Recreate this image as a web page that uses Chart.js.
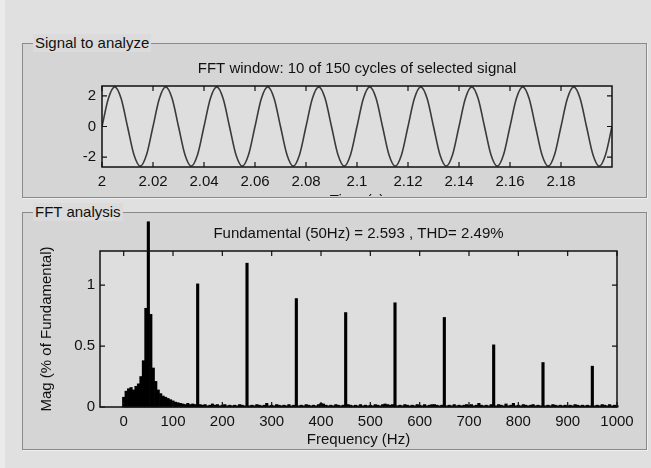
<!DOCTYPE html>
<html>
<head>
<meta charset="utf-8">
<script src="https://cdn.jsdelivr.net/npm/chart.js@4"></script>
<style>
  html, body { margin: 0; padding: 0; }
  body { width: 651px; height: 468px; background: #e0e0e0; position: relative; overflow: hidden;
         font-family: "Liberation Sans", Arial, sans-serif; }
  .edge { position: absolute; left: 0; top: 0; width: 5px; height: 468px; background: #ebebeb; }
  .panel { position: absolute; border: 1px solid #8a8a8a; box-shadow: 1px 1px 0 #efefef; background: #d5d5d5; }
  .panel span { position: absolute; top: -10px; left: 10px; background: #dbdbdb; padding: 0 2px;
                font-size: 15px; line-height: 18px; color: #111; }
  .wrap { position: absolute; left: 0; width: 651px; overflow: hidden; }
</style>
</head>
<body>
<div class="edge"></div>
<div class="panel" style="left:22px; top:43px; width:623px; height:153px;"><span>Signal to analyze</span></div>
<div class="panel" style="left:22px; top:212px; width:623px; height:236px;"><span>FFT analysis</span></div>

<div class="wrap" style="top:52px; height:144px;"><canvas id="signalChart" width="651" height="160"></canvas></div>
<div class="wrap" style="top:212px; height:240px;"><canvas id="fftChart" width="651" height="240"></canvas></div>

<script>
// FFT window signal: 10 cycles of 50 Hz, sampled every 2.5 ms
const timeS = [
  2.0000, 2.0025, 2.0050, 2.0075, 2.0100, 2.0125, 2.0150, 2.0175,
  2.0200, 2.0225, 2.0250, 2.0275, 2.0300, 2.0325, 2.0350, 2.0375,
  2.0400, 2.0425, 2.0450, 2.0475, 2.0500, 2.0525, 2.0550, 2.0575,
  2.0600, 2.0625, 2.0650, 2.0675, 2.0700, 2.0725, 2.0750, 2.0775,
  2.0800, 2.0825, 2.0850, 2.0875, 2.0900, 2.0925, 2.0950, 2.0975,
  2.1000, 2.1025, 2.1050, 2.1075, 2.1100, 2.1125, 2.1150, 2.1175,
  2.1200, 2.1225, 2.1250, 2.1275, 2.1300, 2.1325, 2.1350, 2.1375,
  2.1400, 2.1425, 2.1450, 2.1475, 2.1500, 2.1525, 2.1550, 2.1575,
  2.1600, 2.1625, 2.1650, 2.1675, 2.1700, 2.1725, 2.1750, 2.1775,
  2.1800, 2.1825, 2.1850, 2.1875, 2.1900, 2.1925, 2.1950, 2.1975,
  2.2000
];
const signalV = [
  0, 1.83, 2.59, 1.83, 0, -1.83, -2.59, -1.83,
  0, 1.83, 2.59, 1.83, 0, -1.83, -2.59, -1.83,
  0, 1.83, 2.59, 1.83, 0, -1.83, -2.59, -1.83,
  0, 1.83, 2.59, 1.83, 0, -1.83, -2.59, -1.83,
  0, 1.83, 2.59, 1.83, 0, -1.83, -2.59, -1.83,
  0, 1.83, 2.59, 1.83, 0, -1.83, -2.59, -1.83,
  0, 1.83, 2.59, 1.83, 0, -1.83, -2.59, -1.83,
  0, 1.83, 2.59, 1.83, 0, -1.83, -2.59, -1.83,
  0, 1.83, 2.59, 1.83, 0, -1.83, -2.59, -1.83,
  0, 1.83, 2.59, 1.83, 0, -1.83, -2.59, -1.83,
  0
];
const timeTicks = [2, 2.02, 2.04, 2.06, 2.08, 2.1, 2.12, 2.14, 2.16, 2.18];
const signalTicks = [-2, 0, 2];

// FFT spectrum, one value per 5 Hz bin (0 .. 1000 Hz)
const binHz = 5;
const magPct = [
  0.08, 0.13, 0.15, 0.16, 0.14, 0.17, 0.19, 0.25, 0.38, 0.81,
  1.52, 0.76, 0.32, 0.21, 0.14, 0.11, 0.09, 0.08, 0.07, 0.06,
  0.05, 0.04, 0.035, 0.03, 0.025, 0.02, 0.03, 0.02, 0.025, 0.02,
  1.01, 0.02, 0.015, 0.02, 0.01, 0.015, 0.025, 0.015, 0.02, 0.01,
  0.015, 0.02, 0.01, 0.015, 0.01, 0.015, 0.01, 0.02, 0.015, 0.01,
  1.18, 0.01, 0.015, 0.01, 0.02, 0.015, 0.01, 0.015, 0.03, 0.01,
  0.015, 0.01, 0.02, 0.015, 0.01, 0.015, 0.01, 0.02, 0.01, 0.015,
  0.89, 0.01, 0.015, 0.01, 0.02, 0.015, 0.01, 0.015, 0.01, 0.02,
  0.03, 0.025, 0.015, 0.01, 0.015, 0.01, 0.02, 0.015, 0.01, 0.015,
  0.775, 0.02, 0.015, 0.01, 0.015, 0.01, 0.02, 0.01, 0.015, 0.01,
  0.015, 0.01, 0.02, 0.015, 0.01, 0.02, 0.025, 0.02, 0.015, 0.02,
  0.855, 0.01, 0.015, 0.01, 0.02, 0.015, 0.01, 0.015, 0.01, 0.02,
  0.015, 0.01, 0.02, 0.01, 0.015, 0.02, 0.02, 0.015, 0.01, 0.015,
  0.735, 0.01, 0.015, 0.01, 0.02, 0.01, 0.015, 0.01, 0.015, 0.02,
  0.015, 0.02, 0.01, 0.015, 0.03, 0.015, 0.01, 0.015, 0.01, 0.02,
  0.51, 0.01, 0.02, 0.015, 0.01, 0.025, 0.01, 0.015, 0.03, 0.01,
  0.015, 0.01, 0.02, 0.015, 0.01, 0.015, 0.02, 0.01, 0.015, 0.01,
  0.365, 0.01, 0.015, 0.01, 0.02, 0.015, 0.01, 0.015, 0.01, 0.015,
  0.01, 0.015, 0.01, 0.02, 0.015, 0.01, 0.015, 0.01, 0.015, 0.01,
  0.335, 0.01, 0.015, 0.01, 0.02, 0.015, 0.01, 0.02, 0.01, 0.015,
  0.01
];
const freqTicks = [0, 100, 200, 300, 400, 500, 600, 700, 800, 900, 1000];
const magTicks = [0, 0.5, 1];

const font = { family: 'Liberation Sans', size: 15 };
Chart.defaults.color = '#111';
Chart.defaults.font = font;
Chart.defaults.animation = false;

// matlab style box: light plot area, black frame, ticks pointing inward on all four sides
const matlabAxes = {
  id: 'matlabAxes',
  beforeDatasetsDraw(chart) {
    const { ctx, chartArea: a } = chart;
    ctx.save();
    ctx.fillStyle = '#dedede';
    ctx.fillRect(a.left, a.top, a.right - a.left, a.bottom - a.top);
    ctx.restore();
  },
  afterDatasetsDraw(chart) {
    const { ctx, chartArea: a, scales } = chart;
    const len = 5;
    ctx.save();
    ctx.strokeStyle = '#111';
    ctx.lineWidth = 1.5;
    ctx.strokeRect(a.left, a.top, a.right - a.left, a.bottom - a.top);
    ctx.lineWidth = 1.2;
    ctx.beginPath();
    scales.x.ticks.forEach(t => {
      const px = scales.x.getPixelForValue(t.value);
      ctx.moveTo(px, a.bottom); ctx.lineTo(px, a.bottom - len);
      ctx.moveTo(px, a.top); ctx.lineTo(px, a.top + len);
    });
    scales.y.ticks.forEach(t => {
      const py = scales.y.getPixelForValue(t.value);
      ctx.moveTo(a.left, py); ctx.lineTo(a.left + len, py);
      ctx.moveTo(a.right, py); ctx.lineTo(a.right - len, py);
    });
    ctx.stroke();
    ctx.restore();
  }
};

function fixedTicks(list) {
  return scale => { scale.ticks = list.map(v => ({ value: v })); };
}
const plainLabel = v => String(v);
const noGrid = { display: false, drawTicks: false };

// an empty top axis carries the axes title, so it centres over the plot box like matlab
function titleAxis(text, height, pad) {
  return {
    type: 'linear', position: 'top', min: 0, max: 1,
    afterFit: s => { s.height = height; },
    grid: noGrid, border: { display: false },
    ticks: { display: false },
    title: { display: true, text, padding: { top: pad, bottom: 0 } },
  };
}

new Chart(document.getElementById('signalChart'), {
  type: 'line',
  data: {
    datasets: [{
      data: timeS.map((t, i) => ({ x: t, y: signalV[i] })),
      borderColor: '#3a3a3a',
      borderWidth: 1.6,
      pointRadius: 0,
      cubicInterpolationMode: 'monotone',
    }]
  },
  options: {
    responsive: false,
    layout: { padding: { left: 72, right: 39, top: 0, bottom: 0 } },
    plugins: { legend: { display: false }, tooltip: { enabled: false } },
    scales: {
      x: {
        type: 'linear', min: 2, max: 2.2,
        afterBuildTicks: fixedTicks(timeTicks),
        afterFit: s => { s.height = 45; },
        grid: noGrid, border: { display: false },
        ticks: { padding: 6, maxRotation: 0, autoSkip: false, callback: plainLabel },
        title: { display: true, text: 'Time (s)', padding: { top: 0, bottom: 2 } },
      },
      top: titleAxis('FFT window: 10 of 150 cycles of selected signal', 34, 8),
      y: {
        min: -2.65, max: 2.65,
        afterBuildTicks: fixedTicks(signalTicks),
        afterFit: s => { s.width = 30; },
        grid: noGrid, border: { display: false },
        ticks: { padding: 6, callback: plainLabel },
      }
    }
  },
  plugins: [matlabAxes]
});

new Chart(document.getElementById('fftChart'), {
  type: 'bar',
  data: {
    datasets: [{
      data: magPct.map((m, i) => ({ x: i * binHz, y: m })),
      backgroundColor: '#000',
      barPercentage: 1,
      categoryPercentage: 1,
      clip: false,
    }]
  },
  options: {
    responsive: false,
    layout: { padding: { left: 30, right: 34, top: 0, bottom: 0 } },
    plugins: { legend: { display: false }, tooltip: { enabled: false } },
    scales: {
      x: {
        type: 'linear', min: -48, max: 1000, offset: false,
        afterBuildTicks: fixedTicks(freqTicks),
        afterFit: s => { s.height = 45; },
        grid: noGrid, border: { display: false },
        ticks: { padding: 6, maxRotation: 0, autoSkip: false, callback: plainLabel },
        title: { display: true, text: 'Frequency (Hz)', padding: { top: 0, bottom: 3 } },
      },
      top: titleAxis('Fundamental (50Hz) = 2.593 , THD= 2.49%', 39, 13),
      y: {
        min: 0, max: 1.28,
        afterBuildTicks: fixedTicks(magTicks),
        afterFit: s => { s.width = 70; },
        grid: noGrid, border: { display: false },
        ticks: { padding: 5, callback: plainLabel },
        title: { display: true, text: 'Mag (% of Fundamental)', padding: { top: 8, bottom: 0 } },
      }
    }
  },
  plugins: [matlabAxes]
});
</script>
</body>
</html>
